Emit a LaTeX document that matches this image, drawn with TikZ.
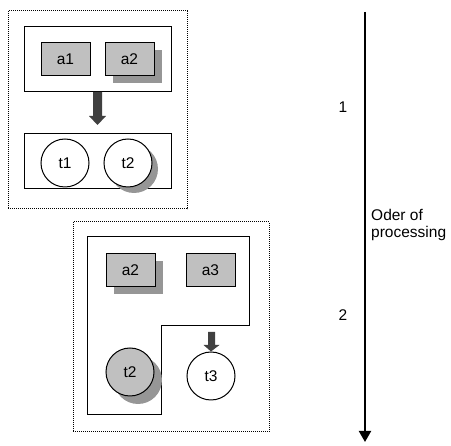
\documentclass[tikz,border=0pt]{standalone}
\usepackage{fontspec}
\setmainfont{Liberation Sans}
\usetikzlibrary{arrows.meta,shadows,calc}
\definecolor{actgray}{HTML}{C0C0C0}
\definecolor{shadegray}{HTML}{969696}
\definecolor{flowgray}{HTML}{404040}
\begin{document}
\begin{tikzpicture}[x=1pt,y=-1pt,
  every node/.style={font=\fontsize{15.5}{17}\selectfont},
  frame/.style={draw, line width=1pt},
  group/.style={draw, line width=1pt, dash pattern=on 1pt off 1pt},
  act/.style={draw, line width=1pt, fill=actgray, minimum width=49pt, minimum height=33pt, inner sep=0pt},
  token/.style={draw, line width=1pt, fill=white, circle, minimum size=48pt, inner sep=0pt},
  boxshade/.style={drop shadow={shadow xshift=8pt, shadow yshift=-7pt, fill=shadegray, opacity=1}},
  roundshade/.style={drop shadow={shadow xshift=6pt, shadow yshift=-6pt, fill=shadegray, opacity=1}},
  flow/.style={fill=flowgray, draw=none}
]
\useasboundingbox (0,0) rectangle (451,446);

% stage 1
\draw[group] (8,11) rectangle (187,209);
\draw[frame] (24,27) rectangle (171,92);
\draw[frame] (24,134) rectangle (171,189);
\node[act] (a1) at (65.5,59.5) {a1};
\node[act, boxshade] (a2) at (129.5,59.5) {a2};
\node[token] (t1) at (65,163) {t1};
\node[token, roundshade] (t2) at (128,163) {t2};
% firing arrow of stage 1
\coordinate (f1) at (97.5,92);
\fill[flow] ($(f1)+(-4.5,0)$) -- ($(f1)+(4.5,0)$) -- ($(f1)+(4.5,24)$) -- ($(f1)+(8.5,24)$)
  -- ($(f1)+(0,33)$) -- ($(f1)+(-8.5,24)$) -- ($(f1)+(-4.5,24)$) -- cycle;

% stage 2
\draw[group] (73,222) rectangle (269,432);
\draw[frame] (87,237) -- (249,237) -- (249,326) -- (161,326) -- (161,415) -- (87,415) -- cycle;
\node[act, boxshade] (b2) at (130.5,270.5) {a2};
\node[act] (b3) at (210.5,270.5) {a3};
\node[token, fill=actgray, drop shadow={shadow xshift=8pt, shadow yshift=-8pt, fill=shadegray, opacity=1}] (u2) at (130,372) {t2};
\node[token] (u3) at (211,376) {t3};
% firing arrow of stage 2
\coordinate (f2) at (211.5,332);
\fill[flow] ($(f2)+(-3.5,0)$) -- ($(f2)+(3.5,0)$) -- ($(f2)+(3.5,13)$) -- ($(f2)+(8,13)$)
  -- (u3.north) -- ($(f2)+(-8,13)$) -- ($(f2)+(-3.5,13)$) -- cycle;

% order of processing
\coordinate (ts) at (365,12);
\coordinate (te) at (365,442);
\draw[line width=2pt, -{Triangle[width=12pt,length=11pt]}] (ts) -- (te);
\node (n1) at (343,107) {1};
\node (n2) at (343,315) {2};
\node[align=left, anchor=west, inner sep=0pt] (lbl) at (371,225) {Oder of\\processing};
\end{tikzpicture}
\end{document}
